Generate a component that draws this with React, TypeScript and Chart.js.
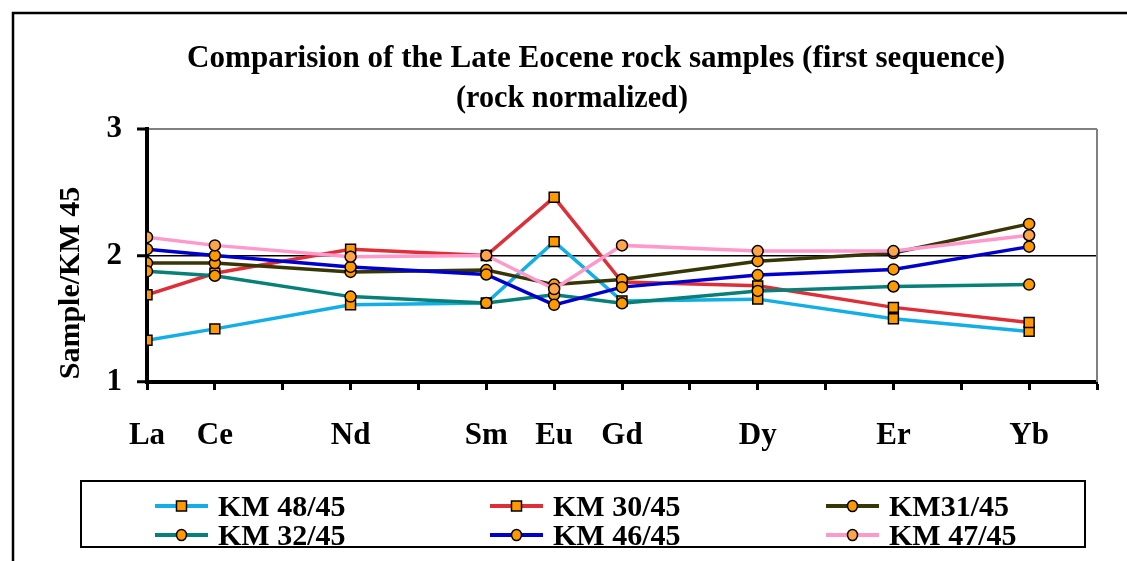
import React, { useEffect, useRef } from "react";
import { Chart, registerables } from "chart.js";

Chart.register(...registerables);

const ELEMENTS = ["La", "Ce", "Nd", "Sm", "Eu", "Gd", "Dy", "Er", "Yb"];
const ATOMIC_NUMBERS = [57, 58, 60, 62, 63, 64, 66, 68, 70];
const Y_TICKS = [1, 2, 3];

const SERIES_NAMES = ["KM 48/45", "KM 30/45", "KM31/45", "KM 32/45", "KM 46/45", "KM 47/45"];
const KM48 = [1.33, 1.42, 1.61, 1.625, 2.11, 1.64, 1.655, 1.5, 1.4];
const KM30 = [1.69, 1.86, 2.05, 2.0, 2.46, 1.79, 1.76, 1.59, 1.47];
const KM31 = [1.94, 1.94, 1.87, 1.885, 1.77, 1.81, 1.955, 2.02, 2.25];
const KM32 = [1.875, 1.84, 1.675, 1.625, 1.69, 1.622, 1.72, 1.755, 1.77];
const KM46 = [2.05, 2.0, 1.91, 1.85, 1.61, 1.75, 1.845, 1.89, 2.07];
const KM47 = [2.145, 2.08, 1.99, 2.0, 1.735, 2.08, 2.035, 2.035, 2.16];

const TITLE_1 = "Comparision of the Late Eocene rock samples (first sequence)";
const TITLE_2 = "(rock normalized)";
const Y_TITLE = "Sample/KM 45";

const LINE_COLORS = ["#14AEE6", "#DE2F38", "#363606", "#078078", "#0000CC", "#FF99CC"];
const MARKER_FILLS = ["#FF9900", "#FF9900", "#FF9900", "#FF9900", "#FF9900", "#FFA448"];
const MARKER_STYLES = ["rect", "rect", "circle", "circle", "circle", "circle"];

const FAMILY = '"Liberation Serif", "Times New Roman", serif';

const overlay = {
  id: "overlay",
  beforeDraw(chart: any) {
    const ctx = chart.ctx;
    ctx.save();
    ctx.fillStyle = "#fff";
    ctx.fillRect(0, 0, chart.width, chart.height);
    ctx.restore();
  },
  afterDraw(chart: any) {
    const ctx = chart.ctx;
    const area = chart.chartArea;
    ctx.save();
    // outer frame
    ctx.strokeStyle = "#000";
    ctx.lineWidth = 2.5;
    ctx.strokeRect(13, 13, chart.width + 20, chart.height + 20);

    // right border of plot area
    ctx.strokeStyle = "#808080";
    ctx.lineWidth = 2;
    ctx.beginPath();
    ctx.moveTo(area.right, area.top);
    ctx.lineTo(area.right, area.bottom);
    ctx.stroke();

    // titles
    ctx.fillStyle = "#000";
    ctx.font = `bold 31px ${FAMILY}`;
    ctx.textBaseline = "alphabetic";
    ctx.textAlign = "center";
    const fit = (text: string, cx: number, y: number, target: number) => {
      const w = ctx.measureText(text).width;
      ctx.save();
      ctx.translate(cx, y);
      ctx.scale(target / w, 1);
      ctx.fillText(text, 0, 0);
      ctx.restore();
    };
    fit(TITLE_1, 596, 67, 818);
    fit(TITLE_2, 572, 107, 232);

    // y title
    ctx.save();
    ctx.translate(79, 283);
    ctx.rotate(-Math.PI / 2);
    ctx.textAlign = "center";
    ctx.textBaseline = "alphabetic";
    ctx.font = `bold 30px ${FAMILY}`;
    ctx.fillText(Y_TITLE, 0, 0);
    ctx.restore();

    // legend box
    ctx.strokeStyle = "#000";
    ctx.lineWidth = 2;
    ctx.strokeRect(81, 481, 1004, 66);
    const colX = [155, 490, 826];
    const rowY = [506, 535];
    ctx.font = `bold 30px ${FAMILY}`;
    ctx.textAlign = "left";
    chart.data.datasets.forEach((ds: any, i: number) => {
      const col = i % 3;
      const row = Math.floor(i / 3);
      const x0 = colX[col];
      const y0 = rowY[row];
      ctx.strokeStyle = ds.borderColor;
      ctx.lineWidth = 4;
      ctx.beginPath();
      ctx.moveTo(x0, y0);
      ctx.lineTo(x0 + 53, y0);
      ctx.stroke();
      ctx.fillStyle = ds.pointBackgroundColor;
      ctx.strokeStyle = "#000";
      ctx.lineWidth = 1.5;
      const mx = x0 + 26.5;
      if (ds.pointStyle === "rect") {
        ctx.fillRect(mx - 5, y0 - 5, 10, 10);
        ctx.strokeRect(mx - 5, y0 - 5, 10, 10);
      } else {
        ctx.beginPath();
        ctx.ellipse(mx, y0, 5, 5.5, 0, 0, Math.PI * 2);
        ctx.fill();
        ctx.stroke();
      }
      ctx.fillStyle = "#000";
      ctx.textBaseline = "alphabetic";
      ctx.fillText(ds.label, x0 + 63, row === 0 ? 516 : 545);
    });
    ctx.restore();
  },
};

export default function App() {
  const ref = useRef<HTMLCanvasElement | null>(null);
  useEffect(() => {
    const canvas = ref.current!;
    const series = [KM48, KM30, KM31, KM32, KM46, KM47];
    const labelMap: Record<number, string> = {};
    ATOMIC_NUMBERS.forEach((z, i) => (labelMap[z] = ELEMENTS[i]));
    const chart = new Chart(canvas, {
      type: "line",
      data: {
        datasets: series.map((vals, i) => ({
          label: SERIES_NAMES[i],
          data: ATOMIC_NUMBERS.map((z, j) => ({ x: z, y: vals[j] })),
          borderColor: LINE_COLORS[i],
          backgroundColor: LINE_COLORS[i],
          borderWidth: 3.5,
          pointStyle: MARKER_STYLES[i],
          pointRadius: MARKER_STYLES[i] === "rect" ? 7 : 5.5,
          pointBackgroundColor: MARKER_FILLS[i],
          pointBorderColor: "#000",
          pointBorderWidth: 1.5,
          tension: 0,
          fill: false,
          order: 6 - i,
        })),
      },
      options: {
        animation: false,
        responsive: false,
        devicePixelRatio: 1,
        layout: { padding: { left: 0, top: 129, right: 30, bottom: 0 } },
        plugins: {
          legend: { display: false },
          title: { display: false },
          tooltip: { enabled: false },
        },
        scales: {
          x: {
            type: "linear",
            min: 57,
            max: 71,
            afterFit: (s: any) => {
              s.height = 179;
              s.paddingLeft = 0;
              s.paddingRight = 0;
            },
            ticks: {
              stepSize: 1,
              autoSkip: false,
              maxRotation: 0,
              padding: 27,
              color: "#000",
              font: { family: FAMILY, size: 31, weight: "bold" },
              callback: (v: any) => labelMap[Number(v)] ?? "",
            },
            grid: {
              drawOnChartArea: false,
              drawTicks: true,
              tickLength: 8,
              tickWidth: 3,
              tickColor: "#000",
              color: "#000",
            },
            border: { display: true, color: "#000", width: 4 },
          },
          y: {
            type: "linear",
            min: 1,
            max: 3,
            afterFit: (s: any) => {
              s.width = 147;
            },
            afterBuildTicks: (s: any) => {
              s.ticks = Y_TICKS.map((v) => ({ value: v }));
            },
            ticks: {
              padding: 15,
              color: "#000",
              font: { family: FAMILY, size: 31, weight: "bold" },
            },
            grid: {
              drawOnChartArea: true,
              drawTicks: true,
              tickLength: 10,
              tickWidth: 3,
              tickColor: "#000",
              color: (c: any) =>
                c.tick && c.tick.value === 2 ? "#000" : c.tick && c.tick.value === 3 ? "#808080" : "rgba(0,0,0,0)",
              lineWidth: (c: any) => (c.tick && c.tick.value === 3 ? 2 : 1.5),
            },
            border: { display: true, color: "#000", width: 4 },
          },
        },
      },
      plugins: [overlay],
    } as any);
    return () => chart.destroy();
  }, []);
  return (
    <div style={{ position: "fixed", left: 0, top: 0, width: 1127, height: 561, background: "#fff" }}>
      <canvas ref={ref} width={1127} height={561} style={{ width: 1127, height: 561, display: "block" }} />
    </div>
  );
}
